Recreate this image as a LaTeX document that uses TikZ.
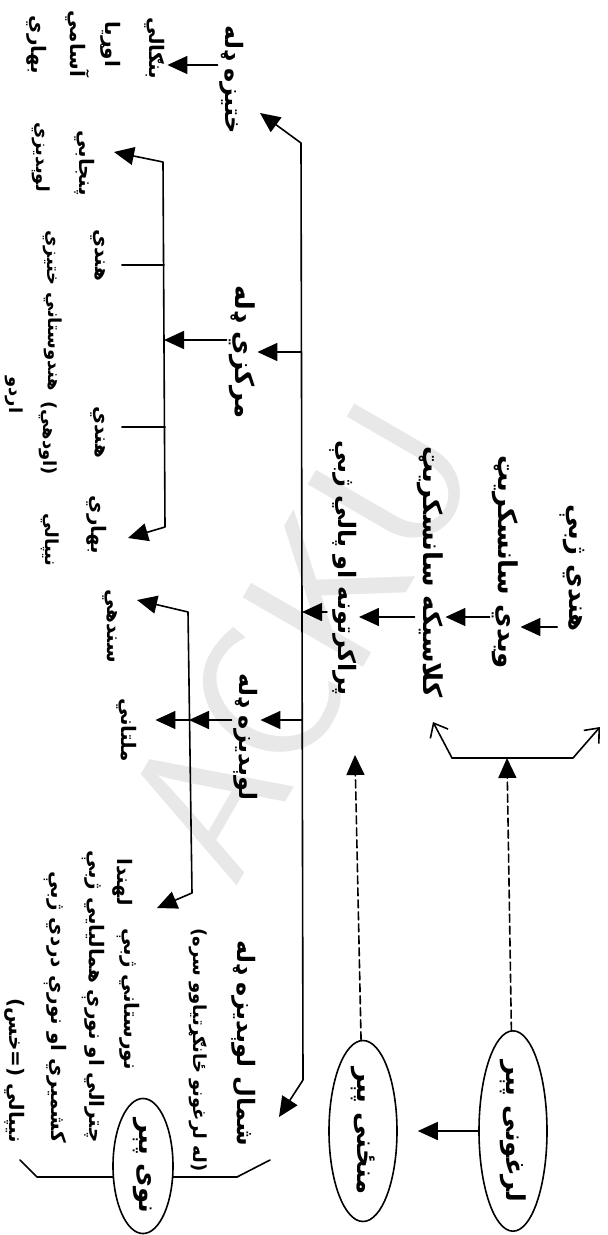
\documentclass[tikz,border=0pt]{standalone}
\usepackage{fontspec}
\newfontfamily\pashto[Script=Arabic]{DejaVu Sans}
\TeXXeTstate=1
\usetikzlibrary{arrows.meta,shapes.geometric}
\newcommand{\rtl}[1]{\beginR #1\endR}

\begin{document}
\begin{tikzpicture}[
  x=0.5pt, y=-0.5pt,
  line cap=round,
  line join=round,
  conn/.style={black,line width=0.8pt},
  arr/.style={conn,-{Triangle[length=10pt,width=9pt]}},
  twoarr/.style={conn,{Triangle[length=10pt,width=9pt]}-{Triangle[length=10pt,width=9pt]}},
  barb/.style={conn,{Straight Barb[length=6pt,width=10pt]}-{Straight Barb[length=6pt,width=10pt]}},
  dasharr/.style={arr,dash pattern=on 4pt off 2pt},
  lang/.style={rotate=-90,font=\pashto\bfseries\fontsize{10}{12}\selectfont,inner sep=1pt},
  sublang/.style={lang,font=\pashto\bfseries\fontsize{9}{11}\selectfont},
  chain/.style={lang,font=\pashto\bfseries\fontsize{13}{15}\selectfont},
  group/.style={lang,font=\pashto\bfseries\fontsize{12}{14}\selectfont},
  period/.style={chain,ellipse,draw,line width=0.8pt,fill=white,inner sep=0pt}
]
\path[use as bounding box] (0,0) rectangle (608,1235);

% watermark of the scan
\node[text=black!9,font=\sffamily\fontsize{100}{100}\selectfont,rotate=60]
  (mark) at (300,640) {ACKU};

% periods
\coordinate (oldLe) at (433,722);
\coordinate (oldL) at (452,758);
\coordinate (oldR) at (573,758);
\coordinate (oldRe) at (600,727);
\coordinate (oldIn) at (507,758);
\coordinate (midIn) at (355,755);
\draw[barb] (oldLe) -- (oldL) -- (oldR) -- (oldRe);

\coordinate (newLe) at (20,1160);
\coordinate (newL) at (37,1177);
\coordinate (newR) at (237,1177);
\coordinate (newRe) at (270,1160);
\draw[conn] (newLe) -- (newL) -- (newR) -- (newRe);

\node[period,minimum width=77pt,minimum height=34pt] (oldp) at (513,1131)
  {\rtl{لرغونی پېر}};
\node[period,minimum width=79pt,minimum height=34pt] (midp) at (363,1131)
  {\rtl{منځنی پېر}};
\node[period,minimum width=43pt,minimum height=30pt] (newp) at (143,1166)
  {\rtl{نوی پېر}};

\draw[dasharr] (oldp) -- (oldIn);
\draw[dasharr] (midp) -- (midIn);
\draw[arr] (oldp.south) -- ([xshift=10pt]midp.north);

% old chain
\node[chain] (hindi) at (572,568) {\rtl{هندي ژبې}};
\node[chain] (vedic) at (505,562) {\rtl{ویدي سانسکریټ}};
\node[chain] (classical) at (430,572) {\rtl{کلاسیکه سانسکریټ}};
\node[group] (prakrit) at (343,568) {\rtl{پراکرتونه او پالي ژبې}};

\draw[arr] (hindi.south |- 0,627) -- (vedic.north |- 0,627);
\draw[arr] (vedic.south |- 0,617) -- (classical.north |- 0,617);
\draw[arr] (classical.south |- 0,617) -- (prakrit.north |- 0,617);

% main bus
\coordinate (busE) at (301,143);
\coordinate (busC) at (301,352);
\coordinate (busP) at (302,612);
\coordinate (busW) at (302,720);
\coordinate (busNW) at (303,1080);
\coordinate (tipE) at (260,113);
\coordinate (tipNW) at (279,1117);
\draw[twoarr] (tipE) -- (busE) -- (busNW) -- (tipNW);
\draw[arr] (prakrit.south |- busP) -- (busP);

% eastern group
\node[group] (east) at (232,80) {\rtl{ختیزه ډله}};
\node[lang] (bengali) at (155,48) {\rtl{بنګالي}};
\node[lang] (oriya) at (111,44) {\rtl{اوړیا}};
\node[lang] (assamese) at (78,44) {\rtl{آسامي}};
\node[lang] (bihariE) at (37,45) {\rtl{بهاري}};
\draw[arr] (east.south |- 0,65) -- (bengali.north |- 0,65);

% central group
\node[chain] (central) at (242,352) {\rtl{مرکزي ډله}};
\draw[arr] (busC) -- (central.north |- busC);
\coordinate (cIn) at (164,340);
\coordinate (cTop) at (163,162);
\coordinate (cBot) at (165,527);
\coordinate (tipPj) at (114,152);
\coordinate (tipBh) at (128,538);
\coordinate (cTickA) at (164,265);
\coordinate (cTickB) at (165,427);
\draw[arr] (central.south |- cIn) -- (cIn);
\draw[twoarr] (tipPj) -- (cTop) -- (cBot) -- (tipBh);

\node[lang] (punjabi) at (85,163) {\rtl{پنجابي}};
\node[sublang] (westhindi) at (41,157) {\rtl{لوېدیزي}};
\node[lang] (hindiA) at (98,255) {\rtl{هندي}};
\node[sublang] (easthindi) at (50,258) {\rtl{ختیزي}};
\node[lang] (hindiB) at (98,432) {\rtl{هندي}};
\node[sublang] (hindustani) at (53,342) {\rtl{هندوستاني}};
\node[sublang] (urdu) at (14,395) {\rtl{اردو}};
\node[sublang] (awadhi) at (48,438) {\rtl{(اودهي)}};
\node[lang] (bihariC) at (97,525) {\rtl{بهاري}};
\node[sublang] (nepaliC) at (50,540) {\rtl{نیپالي}};
\draw[conn,shorten >=7pt] (cTickA) -- (hindiA.north |- cTickA);
\draw[conn,shorten >=7pt] (cTickB) -- (hindiB.north |- cTickB);

% western group
\node[group] (western) at (246,737) {\rtl{لوېدیزه ډله}};
\draw[arr] (busW) -- (western.north |- busW);
\coordinate (wMid) at (189,720);
\coordinate (wTop) at (188,612);
\coordinate (wBot) at (192,893);
\coordinate (tipSd) at (137,600);
\coordinate (tipLh) at (157,908);
\draw[arr] (western.south |- wMid) -- (wMid);
\draw[twoarr] (tipSd) -- (wTop) -- (wBot) -- (tipLh);

\node[lang] (sindhi) at (110,626) {\rtl{سندهي}};
\node[lang] (multani) at (127,730) {\rtl{ملتاني}};
\node[lang] (lahnda) at (123,882) {\rtl{لهندا}};
\draw[arr,shorten >=8pt] (wMid) -- (multani.north |- wMid);

% north-western group
\node[group] (nw) at (244,1043) {\rtl{شمال لوېدیزه ډله}};
\node[sublang] (nwnote) at (198,1050) {\rtl{(له لرغونو ځانګړتیاوو سره)}};
\node[lang,anchor=east] (nuristani) at (128,1072) {\rtl{نورستاني ژبې}};
\node[lang,anchor=east] (chitrali) at (93,1145) {\rtl{چترالي او نورې همالیايي ژبې}};
\node[lang,anchor=east] (kashmiri) at (55,1145) {\rtl{کشمیري او نورې دردي ژبې}};
\node[lang,anchor=east] (nepali) at (15,1145) {\rtl{نیپالي (=خس)}};
\end{tikzpicture}
\end{document}
